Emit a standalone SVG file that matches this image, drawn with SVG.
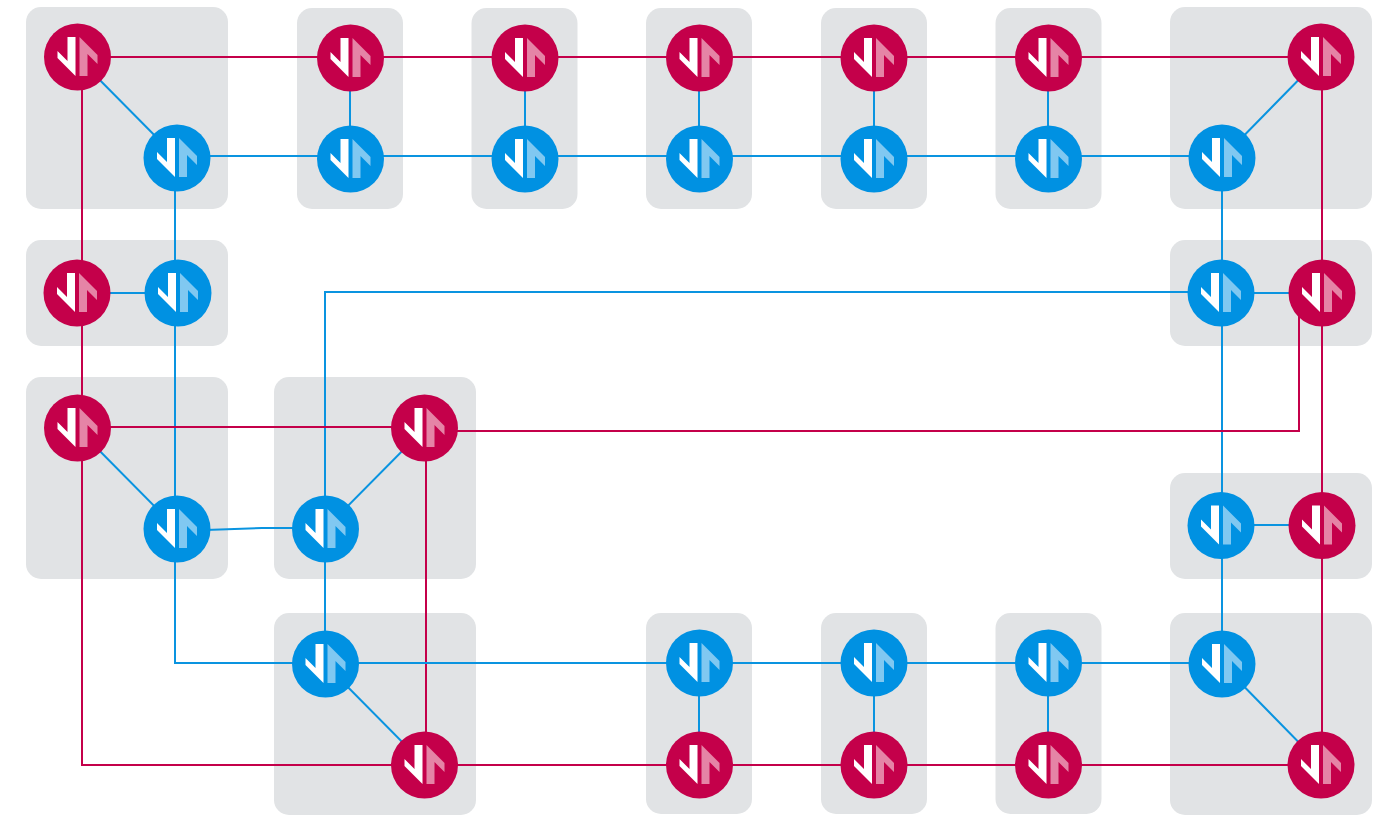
<svg xmlns="http://www.w3.org/2000/svg" xmlns:xlink="http://www.w3.org/1999/xlink" width="1382" height="815" viewBox="0 0 1382 815">
<style>
.p{fill:#e1e3e5}
.r{fill:none;stroke:#c4004a;stroke-width:2}
.b{fill:none;stroke:#0a94e0;stroke-width:2}
.rc{fill:#c4004a}
.bc{fill:#0091e2}
.w{fill:#fff}
.rl{fill:#e584a6}
.bl{fill:#80c8f1}
</style>
<defs>
<g id="red"><circle r="33.5" class="rc"/><path class="w" d="M-20-6-10 4V-20H-2V19L-20 1Z"/><path class="rl" d="M2 19V-20L20-2V7L10-3V19Z"/></g>
<g id="blue"><circle r="33.5" class="bc"/><path class="w" d="M-20-6-10 4V-20H-2V19L-20 1Z"/><path class="bl" d="M2 19V-20L20-2V7L10-3V19Z"/></g>
</defs>
<g id="panels">
<rect class="p" x="26" y="7" width="202" height="202" rx="15"/>
<rect class="p" x="297" y="8" width="106" height="201" rx="15"/>
<rect class="p" x="471.500" y="8" width="106" height="201" rx="15"/>
<rect class="p" x="646" y="8" width="106" height="201" rx="15"/>
<rect class="p" x="821" y="8" width="106" height="201" rx="15"/>
<rect class="p" x="995.500" y="8" width="106" height="201" rx="15"/>
<rect class="p" x="1170" y="7" width="202" height="202" rx="15"/>
<rect class="p" x="26" y="240" width="202" height="106" rx="15"/>
<rect class="p" x="1170" y="240" width="202" height="106" rx="15"/>
<rect class="p" x="26" y="377" width="202" height="202" rx="15"/>
<rect class="p" x="274" y="377" width="202" height="202" rx="15"/>
<rect class="p" x="1170" y="473" width="202" height="106" rx="15"/>
<rect class="p" x="274" y="613" width="202" height="202" rx="15"/>
<rect class="p" x="646" y="613" width="106" height="201" rx="15"/>
<rect class="p" x="821" y="613" width="106" height="201" rx="15"/>
<rect class="p" x="995.500" y="613" width="106" height="201" rx="15"/>
<rect class="p" x="1170" y="613" width="202" height="202" rx="15"/>
</g>
<g id="connectors">
<path class="r" d="M77 57H1321"/>
<path class="b" d="M177 156H1222"/>
<path class="b" d="M77 57 177 158M350 58V159M525 58V159M699 58V159M874 58V159M1048 58V159M1321 57 1222 158"/>
<path class="r" d="M82 57V765H425"/>
<path class="b" d="M175 158V663H325"/>
<path class="b" d="M77 293H178"/>
<path class="b" d="M1221 293H1322M1221 525H1322"/>
<path class="r" d="M1322 57V765"/>
<path class="b" d="M1222 158V664"/>
<path class="b" d="M325 529V292H1221"/>
<path class="r" d="M77 427H425"/>
<path class="r" d="M425 431H1299V293"/>
<path class="b" d="M77 428 177 529M425 428 325 529M177 531 262 528H325"/>
<path class="r" d="M426 428V765"/>
<path class="b" d="M325 529V664"/>
<path class="b" d="M325 663H1222"/>
<path class="b" d="M325 664 425 765M699 663V765M874 663V765M1048 663V765M1222 664 1321 765"/>
<path class="r" d="M425 765H1321"/>
</g>
<g id="n1"><use href="#red" x="77.500" y="57"/></g>
<g id="n2"><use href="#red" x="350.500" y="58"/></g>
<g id="n3"><use href="#red" x="525" y="58"/></g>
<g id="n4"><use href="#red" x="699.500" y="58"/></g>
<g id="n5"><use href="#red" x="874" y="58"/></g>
<g id="n6"><use href="#red" x="1048.500" y="58"/></g>
<g id="n7"><use href="#red" x="1321" y="57"/></g>
<g id="n8"><use href="#blue" x="177" y="158"/></g>
<g id="n9"><use href="#blue" x="350.500" y="159"/></g>
<g id="n10"><use href="#blue" x="525" y="159"/></g>
<g id="n11"><use href="#blue" x="699.500" y="159"/></g>
<g id="n12"><use href="#blue" x="874" y="159"/></g>
<g id="n13"><use href="#blue" x="1048.500" y="159"/></g>
<g id="n14"><use href="#blue" x="1222" y="158"/></g>
<g id="n15"><use href="#red" x="77" y="293"/></g>
<g id="n16"><use href="#blue" x="178" y="293"/></g>
<g id="n17"><use href="#blue" x="1221" y="293"/></g>
<g id="n18"><use href="#red" x="1322" y="293"/></g>
<g id="n19"><use href="#red" x="77.500" y="428"/></g>
<g id="n20"><use href="#blue" x="177" y="529"/></g>
<g id="n21"><use href="#blue" x="325.500" y="529"/></g>
<g id="n22"><use href="#red" x="424.500" y="428"/></g>
<g id="n23"><use href="#blue" x="1221" y="525.500"/></g>
<g id="n24"><use href="#red" x="1322" y="525.500"/></g>
<g id="n25"><use href="#blue" x="325.500" y="664"/></g>
<g id="n26"><use href="#red" x="424.500" y="765"/></g>
<g id="n27"><use href="#blue" x="699.500" y="663"/></g>
<g id="n28"><use href="#blue" x="874" y="663"/></g>
<g id="n29"><use href="#blue" x="1048.500" y="663"/></g>
<g id="n30"><use href="#blue" x="1222" y="664"/></g>
<g id="n31"><use href="#red" x="699.500" y="765"/></g>
<g id="n32"><use href="#red" x="874" y="765"/></g>
<g id="n33"><use href="#red" x="1048.500" y="765"/></g>
<g id="n34"><use href="#red" x="1321" y="765"/></g>
</svg>
